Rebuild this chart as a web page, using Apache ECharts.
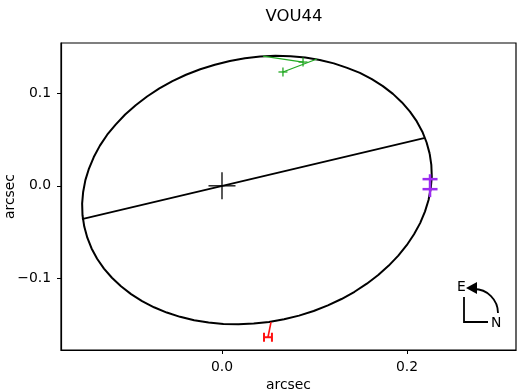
<!DOCTYPE html>
<html><head><meta charset="utf-8">
<script src="https://cdn.jsdelivr.net/npm/echarts@6/dist/echarts.min.js"></script>
<style>html,body{margin:0;padding:0;background:#fff}#c{width:520px;height:391px}</style>
</head><body><div id="c"></div>
<script>
// ---- data (arcsec) ----
const chartTitle = 'VOU44';
const xTicks = [0.0, 0.2];
const yTicks = [-0.1, 0.0, 0.1];
const orbitX = [0.2245,0.2212,0.2166,0.2106,0.2032,0.1946,0.1848,0.1739,0.1620,0.1491,0.1353,0.1209,0.1057,0.0901,0.0741,0.0578,0.0413,0.0248,0.0085,-0.0077,-0.0235,-0.0389,-0.0536,-0.0677,-0.0810,-0.0933,-0.1047,-0.1150,-0.1241,-0.1320,-0.1386,-0.1438,-0.1477,-0.1501,-0.1512,-0.1508,-0.1489,-0.1456,-0.1410,-0.1350,-0.1276,-0.1190,-0.1092,-0.0983,-0.0864,-0.0735,-0.0597,-0.0453,-0.0301,-0.0145,0.0015,0.0178,0.0343,0.0508,0.0671,0.0833,0.0991,0.1145,0.1292,0.1433,0.1566,0.1689,0.1803,0.1906,0.1997,0.2076,0.2142,0.2194,0.2233,0.2257,0.2268,0.2263,0.2245];
const orbitY = [0.0347,0.0467,0.0583,0.0694,0.0800,0.0899,0.0991,0.1075,0.1150,0.1217,0.1271,0.1320,0.1357,0.1382,0.1397,0.1401,0.1393,0.1375,0.1346,0.1305,0.1257,0.1197,0.1128,0.1050,0.0963,0.0869,0.0769,0.0660,0.0551,0.0433,0.0310,0.0186,0.0061,-0.0066,-0.0192,-0.0317,-0.0439,-0.0559,-0.0675,-0.0786,-0.0892,-0.0991,-0.1083,-0.1167,-0.1242,-0.1309,-0.1366,-0.1412,-0.1449,-0.1474,-0.1489,-0.1493,-0.1485,-0.1468,-0.1438,-0.1399,-0.1349,-0.1289,-0.1220,-0.1142,-0.1055,-0.0961,-0.0860,-0.0752,-0.0640,-0.0522,-0.0402,-0.0278,-0.0153,-0.0026,0.0100,0.0225,0.0347];
const nodeLineX = [-0.1514, 0.2184];
const nodeLineY = [-0.0359, 0.0515];
const primaryX = [0.0];
const primaryY = [0.0];
const greenObsX = [0.0876, 0.0659];
const greenObsY = [0.1334, 0.1227];
const greenFitX = [0.0443, 0.1027];
const greenFitY = [0.1399, 0.1367];
const redObsX = [0.0497];
const redObsY = [-0.1632];
const redFitX = [0.0530];
const redFitY = [-0.1470];
const redXErr = [0.0043];
const purpleObsX = [0.2249];
const purpleObsY = [0.0018];
const purpleYErr = [0.0054];
const purpleFitY = [0.0125, -0.0122];

const fmt = v => (v < 0 ? '\u2212' : '') + Math.abs(v).toFixed(1);
const FONT = 'DejaVu Sans';

function segRender(color, width) {
  return function (params, api) {
    const p1 = api.coord([api.value(0), api.value(1)]);
    const p2 = api.coord([api.value(2), api.value(3)]);
    return {type:'line', shape:{x1:p1[0],y1:p1[1],x2:p2[0],y2:p2[1]}, style:{stroke:color, lineWidth:width}};
  };
}
function plusRender(color, size, width) {
  return function (params, api) {
    const p = api.coord([api.value(0), api.value(1)]);
    const h = size/2;
    return {type:'group', children:[
      {type:'line', shape:{x1:p[0]-h,y1:p[1],x2:p[0]+h,y2:p[1]}, style:{stroke:color,lineWidth:width}},
      {type:'line', shape:{x1:p[0],y1:p[1]-h,x2:p[0],y2:p[1]+h}, style:{stroke:color,lineWidth:width}}
    ]};
  };
}
function xErrRender(color, cap, width) {
  return function (params, api) {
    const x = api.value(0), y = api.value(1), e = api.value(2);
    const a = api.coord([x-e, y]), b = api.coord([x+e, y]);
    const h = cap/2;
    return {type:'group', children:[
      {type:'line', shape:{x1:a[0],y1:a[1],x2:b[0],y2:b[1]}, style:{stroke:color,lineWidth:width}},
      {type:'line', shape:{x1:a[0],y1:a[1]-h,x2:a[0],y2:a[1]+h}, style:{stroke:color,lineWidth:width}},
      {type:'line', shape:{x1:b[0],y1:b[1]-h,x2:b[0],y2:b[1]+h}, style:{stroke:color,lineWidth:width}}
    ]};
  };
}
function yErrRender(color, cap, width) {
  return function (params, api) {
    const x = api.value(0), y = api.value(1), e = api.value(2);
    const a = api.coord([x, y-e]), b = api.coord([x, y+e]);
    const h = cap/2;
    return {type:'group', children:[
      {type:'line', shape:{x1:a[0]-h,y1:a[1],x2:a[0]+h,y2:a[1]}, style:{stroke:color,lineWidth:width}},
      {type:'line', shape:{x1:b[0]-h,y1:b[1],x2:b[0]+h,y2:b[1]}, style:{stroke:color,lineWidth:width}}
    ]};
  };
}

const GREEN = '#22a822', RED = '#ff1010', PURPLE = '#9b2bf0';

const chart = echarts.init(document.getElementById('c'), null, {renderer:'canvas'});
chart.setOption({
  animation: false,
  backgroundColor: '#fff',
  title: {text: chartTitle, left: 289, top: 3, textAlign: 'center',
    textStyle:{fontFamily:FONT, fontSize:16.5, fontWeight:'normal', color:'#000'}},
  grid: {left:61, right:4, top:43, bottom:41, containLabel:false, outerBoundsMode:'none',
    show:true, borderColor:'#000', borderWidth:1.2, backgroundColor:'transparent'},
  xAxis: {type:'value', min:-0.17405, max:0.31784, name:'arcsec', nameLocation:'middle', nameGap:28,
    nameMoveOverlap:false,
    nameTextStyle:{fontFamily:FONT, fontSize:13.9, color:'#000'},
    axisLine:{show:true, onZero:false, lineStyle:{color:'#000', width:1.2}}, splitLine:{show:false},
    axisTick:{show:true, customValues:xTicks, length:4, lineStyle:{color:'#000'}},
    axisLabel:{customValues:xTicks, formatter:fmt, fontFamily:FONT, fontSize:13.9, color:'#000', margin:10}},
  yAxis: {type:'value', min:-0.17695, max:0.15394, name:'arcsec', nameLocation:'middle', nameGap:44,
    nameMoveOverlap:false,
    nameTextStyle:{fontFamily:FONT, fontSize:13.9, color:'#000'},
    axisLine:{show:true, onZero:false, lineStyle:{color:'#000', width:1.2}}, splitLine:{show:false},
    axisTick:{show:true, customValues:yTicks, length:4, lineStyle:{color:'#000'}},
    axisLabel:{customValues:yTicks, formatter:fmt, fontFamily:FONT, fontSize:13.9, color:'#000', margin:10}},
  series: [
    {type:'line', data: orbitX.map((x,i)=>[x, orbitY[i]]), showSymbol:false, smooth:false,
      lineStyle:{color:'#000', width:2}, z:2},
    {type:'line', data: nodeLineX.map((x,i)=>[x, nodeLineY[i]]), showSymbol:false,
      lineStyle:{color:'#000', width:1.8}, z:2},
    {type:'custom', renderItem: plusRender('#000', 27, 1.3), data: primaryX.map((x,i)=>[x, primaryY[i]]), z:3},
    {type:'custom', renderItem: segRender(GREEN, 1.3), data: greenObsX.map((x,i)=>[greenFitX[i], greenFitY[i], x, greenObsY[i]]), z:4},
    {type:'custom', renderItem: plusRender(GREEN, 9, 1.3), data: greenObsX.map((x,i)=>[x, greenObsY[i]]), z:4},
    {type:'custom', renderItem: segRender(RED, 1.6), data: redObsX.map((x,i)=>[redFitX[i], redFitY[i], x, redObsY[i]]), z:4},
    {type:'custom', renderItem: xErrRender(RED, 9, 2), data: redObsX.map((x,i)=>[x, redObsY[i], redXErr[i]]), z:4},
    {type:'custom', renderItem: segRender(PURPLE, 2.5), data: purpleObsX.map((x,i)=>[x, purpleFitY[0], x, purpleFitY[1]]), z:4},
    {type:'custom', renderItem: yErrRender(PURPLE, 15, 2.5), data: purpleObsX.map((x,i)=>[x, purpleObsY[i], purpleYErr[i]]), z:4}
  ],
  graphic: [
    {type:'text', left:457, top:280, style:{text:'E', fontFamily:FONT, fontSize:13.9, fill:'#000'}},
    {type:'text', left:491, top:316, style:{text:'N', fontFamily:FONT, fontSize:13.9, fill:'#000'}},
    {type:'polyline', shape:{points:[[464,297],[464,322],[488,322]]}, style:{stroke:'#000', lineWidth:1.8, fill:null}},
    {type:'arc', shape:{cx:474, cy:313, r:24, startAngle:-Math.PI/2, endAngle:0}, style:{stroke:'#000', lineWidth:1.8, fill:null}},
    {type:'polygon', shape:{points:[[466,288],[477,282],[477,294]]}, style:{fill:'#000'}}
  ]
});
</script></body></html>
